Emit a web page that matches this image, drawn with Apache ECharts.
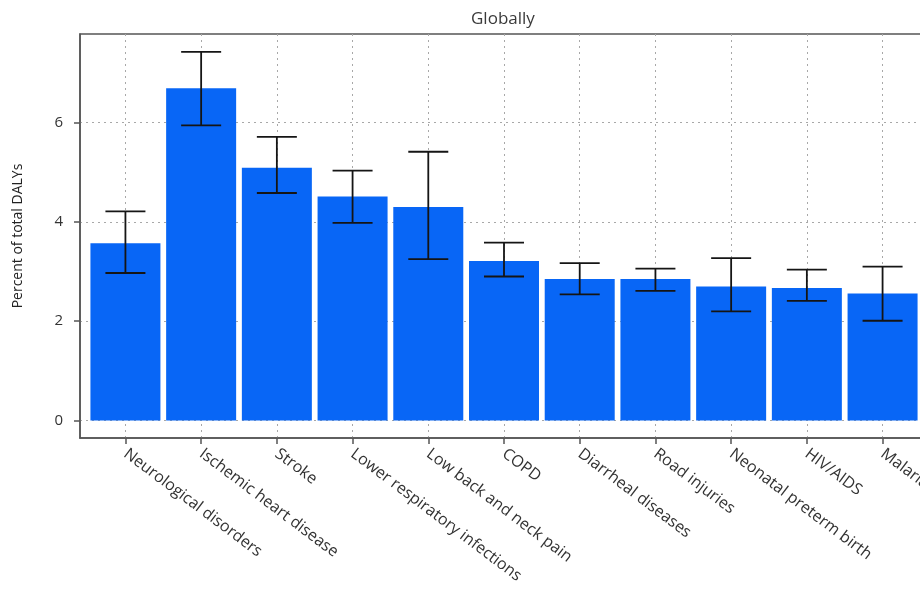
<!DOCTYPE html>
<html>
<head>
<meta charset="utf-8">
<script src="https://cdn.jsdelivr.net/npm/echarts@6/dist/echarts.min.js"></script>
<style>
  html, body { margin: 0; padding: 0; background: #fff; }
  #chart { width: 920px; height: 600px; }
</style>
</head>
<body>
<div id="chart"></div>
<script>
// Share of total DALYs by cause, with uncertainty intervals
const categories = [
  'Neurological disorders', 'Ischemic heart disease', 'Stroke',
  'Lower respiratory infections', 'Low back and neck pain', 'COPD',
  'Diarrheal diseases', 'Road injuries', 'Neonatal preterm birth',
  'HIV/AIDS', 'Malaria'
];
const percentValues = [3.57, 6.69, 5.09, 4.51, 4.30, 3.21, 2.85, 2.85, 2.70, 2.67, 2.56];
const lowerBounds   = [2.97, 5.94, 4.58, 3.98, 3.25, 2.90, 2.54, 2.61, 2.20, 2.41, 2.01];
const upperBounds   = [4.21, 7.42, 5.71, 5.03, 5.41, 3.58, 3.17, 3.06, 3.27, 3.04, 3.10];
const yTicks = [0, 2, 4, 6];

const positions = categories.map((_, i) => i);
const barData = percentValues.map((v, i) => [i, v]);
const errData = lowerBounds.map((lo, i) => [i, lo, upperBounds[i]]);

const chart = echarts.init(document.getElementById('chart'), null, { renderer: 'canvas' });

const gridLine = { show: true, lineStyle: { color: '#a8a8a8', width: 1, type: [2, 4] } };
const font = '"Open Sans", "Noto Sans", sans-serif';
const spine = { color: '#555', width: 1.5 };

chart.setOption({
  animation: false,
  backgroundColor: '#fff',
  title: {
    text: 'Globally',
    left: 466,
    top: 6,
    textStyle: { fontFamily: font, fontSize: 17, fontWeight: 500, color: '#3a3a3a' }
  },
  grid: {
    left: 80, top: 34, width: 848, height: 404,
    outerBoundsMode: 'none',
    containLabel: false,
    show: true, borderColor: '#555', borderWidth: 1.5, backgroundColor: 'transparent'
  },
  xAxis: {
    type: 'value',
    min: -0.6,
    max: 10.6,
    axisLine: { show: true, onZero: false, lineStyle: spine },
    axisTick: { show: true, inside: false, length: 6, customValues: positions, lineStyle: spine },
    axisLabel: {
      customValues: positions,
      rotate: -37,
      margin: 14,
      fontFamily: font, fontSize: 16, color: '#333',
      formatter: v => categories[Math.round(v)] || ''
    },
    splitLine: gridLine
  },
  yAxis: {
    type: 'value',
    min: -0.35,
    max: 7.78,
    name: 'Percent of total DALYs',
    nameLocation: 'middle',
    nameGap: 55,
    nameTextStyle: { fontFamily: font, fontSize: 14, color: '#222' },
    axisLine: { show: true, onZero: false, lineStyle: spine },
    axisTick: { show: true, inside: false, length: 6, customValues: yTicks, lineStyle: spine },
    axisLabel: { customValues: yTicks, margin: 17, fontFamily: font, fontSize: 15, color: '#333' },
    splitLine: gridLine
  },
  series: [
    {
      type: 'bar',
      data: barData,
      barWidth: 70,
      itemStyle: { color: '#0866f6' },
      z: 2
    },
    {
      type: 'custom',
      data: errData,
      z: 3,
      renderItem: (params, api) => {
        const x = api.value(0);
        const lo = api.coord([x, api.value(1)]);
        const hi = api.coord([x, api.value(2)]);
        const half = 20;
        const style = { stroke: '#151515', lineWidth: 1.8 };
        return {
          type: 'group',
          children: [
            { type: 'line', shape: { x1: lo[0], y1: lo[1], x2: hi[0], y2: hi[1] }, style },
            { type: 'line', shape: { x1: hi[0] - half, y1: hi[1], x2: hi[0] + half, y2: hi[1] }, style },
            { type: 'line', shape: { x1: lo[0] - half, y1: lo[1], x2: lo[0] + half, y2: lo[1] }, style }
          ]
        };
      }
    }
  ]
});
</script>
</body>
</html>
